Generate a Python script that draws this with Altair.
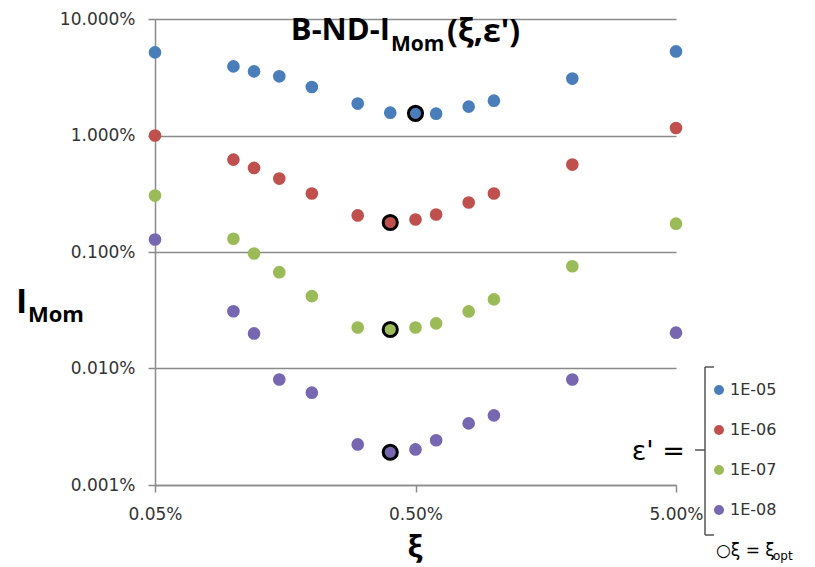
import altair as alt
import pandas as pd

# Flatness parameter xi (as a fraction) shared by every series
xi = [0.0005, 0.0010, 0.0012, 0.0015, 0.0020, 0.0030, 0.0040,
      0.0050, 0.0060, 0.0080, 0.0100, 0.0200, 0.0500]

# I_Mom values (in percent) for each epsilon'
series_names = ["1E-05", "1E-06", "1E-07", "1E-08"]
imom_1e05 = [5.17, 3.92, 3.55, 3.22, 2.61, 1.88, 1.57, 1.55, 1.54, 1.77, 1.99, 3.08, 5.27]
imom_1e06 = [1.00, 0.621, 0.527, 0.427, 0.318, 0.206, 0.179, 0.190, 0.210, 0.266, 0.318, 0.563, 1.16]
imom_1e07 = [0.305, 0.130, 0.097, 0.0671, 0.0418, 0.0225, 0.0216, 0.0225, 0.0244, 0.0309, 0.0392, 0.0755, 0.175]
imom_1e08 = [0.128, 0.0310, 0.0200, 0.00805, 0.0062, 0.00223, 0.00191, 0.00202, 0.00242, 0.00338, 0.00396, 0.00805, 0.0203]
# index of the optimal xi in each series
opt_index = [7, 6, 6, 6]

colors = ["#4a7ebb", "#c0504d", "#9bbb59", "#7667b0"]

rows = []
for name, vals, oi in zip(series_names, [imom_1e05, imom_1e06, imom_1e07, imom_1e08], opt_index):
    for i, (x, v) in enumerate(zip(xi, vals)):
        rows.append({"xi": x, "imom": v / 100.0, "eps": name, "opt": i == oi})
df = pd.DataFrame(rows)

x_enc = alt.X("xi:Q",
              scale=alt.Scale(type="log", domain=[0.0005, 0.05], nice=False),
              axis=alt.Axis(values=[0.0005, 0.005, 0.05], format=".2%", title=None,
                            grid=False, tickSize=7, labelPadding=14, labelFlush=False,
                            domainColor="#8a8a8a", tickColor="#8a8a8a",
                            domainWidth=1.5, tickWidth=1.5))
y_enc = alt.Y("imom:Q",
              scale=alt.Scale(type="log", domain=[0.00001, 0.1], nice=False),
              axis=alt.Axis(values=[0.00001, 0.0001, 0.001, 0.01, 0.1], format=".3%",
                            title=None, grid=True, gridColor="#8a8a8a", gridWidth=1.5,
                            tickSize=7, labelPadding=13, labelFlush=False,
                            domainColor="#8a8a8a", tickColor="#8a8a8a",
                            domainWidth=1.5, tickWidth=1.5))

color_enc = alt.Color("eps:N",
                      scale=alt.Scale(domain=series_names, range=colors),
                      legend=alt.Legend(orient="none", legendX=556, legendY=363,
                                        title=None, symbolType="circle", symbolSize=100,
                                        symbolStrokeWidth=0, labelFontSize=16,
                                        labelFont="DejaVu Sans", labelColor="#333333",
                                        rowPadding=24, labelOffset=3, padding=0))

points = alt.Chart(df).mark_circle(size=160, opacity=1).encode(x=x_enc, y=y_enc, color=color_enc)

opt_ring = alt.Chart(df).transform_filter("datum.opt").mark_point(
    filled=False, size=200, stroke="black", strokeWidth=3, opacity=1
).encode(x="xi:Q", y="imom:Q")

def label(text, x, y, size, bold=False, align="left", baseline="alphabetic", font="Open Sans"):
    return alt.Chart(pd.DataFrame({"t": [text]})).mark_text(
        align=align, baseline=baseline, fontSize=size,
        fontWeight="bold" if bold else "normal", font=font, color="black"
    ).encode(text="t:N", x=alt.value(x), y=alt.value(y))

def rule(x1, y1, x2, y2):
    return alt.Chart(pd.DataFrame({"a": [0]})).mark_rule(color="#555555", strokeWidth=1.5).encode(
        x=alt.value(x1), x2=alt.value(x2), y=alt.value(y1), y2=alt.value(y2))

# Chart title with subscript
title_parts = [
    label("B-ND-I", 235, 21, 31, bold=True, align="right"),
    label("Mom", 236, 32, 21, bold=True),
    label("(ξ,ε')", 292, 23, 32, bold=True),
]
# Axis titles
axis_titles = [
    label("I", -139, 294, 34, bold=True),
    label("Mom", -127, 303, 22, bold=True),
    label("ξ", 260, 538, 30, bold=True, align="center"),
]
# Legend bracket and captions
bracket = [
    rule(550, 348, 550, 516),
    rule(550, 348, 559, 348),
    rule(550, 516, 559, 516),
    rule(540, 431, 550, 431),
]
captions = [
    label("ε' =", 530, 441, 27, align="right", font="DejaVu Sans"),
    label("○ξ = ξ", 561, 537, 17, font="DejaVu Sans"),
    label("opt", 618, 541, 12, font="DejaVu Sans"),
]

chart = alt.layer(points, opt_ring, *title_parts, *axis_titles, *bracket, *captions).properties(
    width=521, height=466,
    autosize=alt.AutoSizeParams(type="none"),
    padding={"left": 155, "top": 19, "right": 139, "bottom": 82},
).configure_view(stroke=None).configure_axis(
    labelFont="DejaVu Sans", labelFontSize=17, labelColor="#333333"
)

chart.save("out.html", embed_options={"renderer": "svg", "actions": False})
